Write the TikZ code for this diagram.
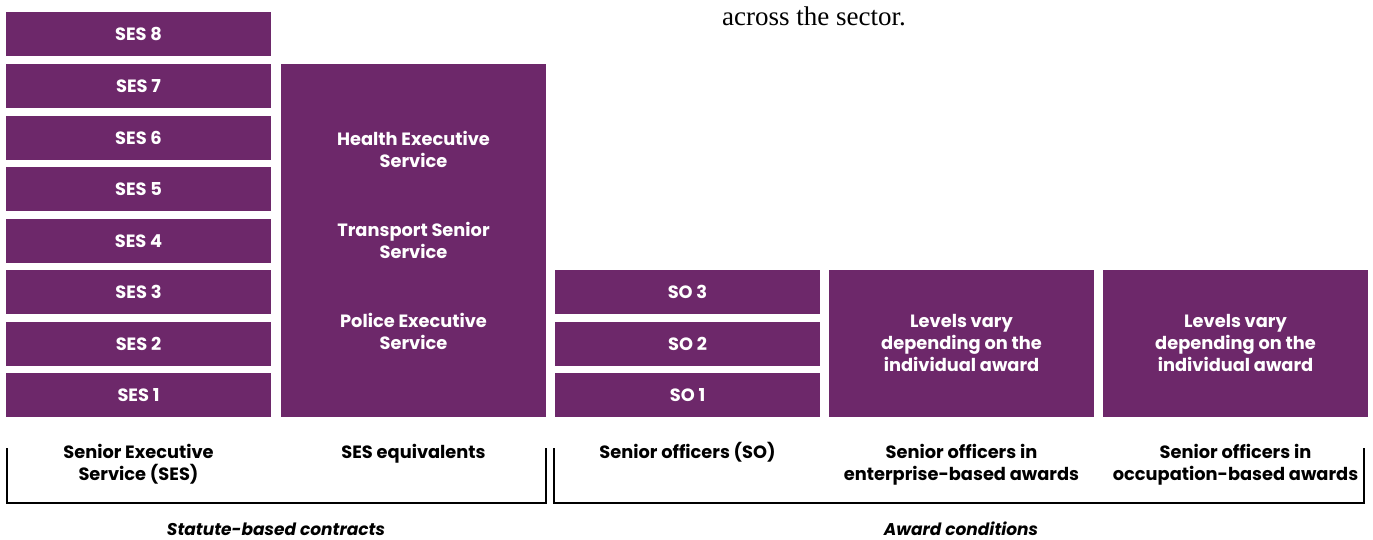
\documentclass[tikz,border=0pt]{standalone}
\usepackage{fontspec}
\setmainfont{Poppins}
\newfontfamily\serifbody{Liberation Serif}
\definecolor{vpurple}{RGB}{109,40,106}
\tikzset{
  lvl/.style={fill=vpurple, draw=none, inner sep=0pt, text=white, font=\bfseries\fontsize{17.8}{22}\selectfont, align=center},
  lvltext/.style={text=white, font=\bfseries\fontsize{17.8}{22}\selectfont, inner sep=0pt},
  cat/.style={inner sep=0pt, anchor=north, align=center, font=\bfseries\fontsize{17.8}{22}\selectfont, text=black},
  grp/.style={inner sep=0pt, font=\bfseries\itshape\fontsize{17}{22}\selectfont, text=black},
  brk/.style={line width=1.5pt, black}
}
\begin{document}
\begin{tikzpicture}[x=1pt,y=-1pt]
\useasboundingbox[fill=white] (0,0) rectangle (1373,539);
% top text fragment
\node[anchor=base west, inner sep=0pt, font=\serifbody\fontsize{27}{30}\selectfont] (topt) at (722,25) {across the sector.};
% SES column
\foreach \i/\y in {8/12,7/64,6/116,5/167,4/219,3/270,2/322,1/373}{
  \path[lvl] (6,\y) rectangle (271,\y+44);
  \node[lvltext] (ses\i) at (138.5,\y+22) {SES \i};
}
% SES equivalents
\path[lvl] (281,64) rectangle (546,417);
\node[lvl, fill=none] (heal) at (413.5,149) {Health Executive\\Service};
\node[lvl, fill=none] (tran) at (413.5,240) {Transport Senior\\Service};
\node[lvl, fill=none] (poli) at (413.5,331.5) {Police Executive\\Service};
% SO
\foreach \i/\y in {3/270,2/322,1/373}{
  \path[lvl] (555,\y) rectangle (820,\y+44);
  \node[lvltext] (so\i) at (687.5,\y+22) {SO \i};
}
% awards
\path[lvl] (829,270) rectangle (1094,417);
\node[lvl, fill=none] (ent) at (961.5,343) {Levels vary\\depending on the\\individual award};
\path[lvl] (1103,270) rectangle (1368,417);
\node[lvl, fill=none] (occ) at (1235.5,343) {Levels vary\\depending on the\\individual award};
% category labels
\node[cat] (c1) at (138.5,444) {Senior Executive\\Service (SES)};
\node[cat] (c2) at (413.5,444) {SES equivalents};
\node[cat] (c3) at (687.5,442) {Senior officers (SO)};
\node[cat] (c4) at (961.5,444) {Senior officers in\\enterprise-based awards};
\node[cat] (c5) at (1235.5,444) {Senior officers in\\occupation-based awards};
% brackets
\coordinate (b1a) at (7,448); \coordinate (b1b) at (7,503);
\coordinate (b1c) at (546,503); \coordinate (b1d) at (546,448);
\coordinate (b2a) at (554,448); \coordinate (b2b) at (554,503);
\coordinate (b2c) at (1364,503); \coordinate (b2d) at (1364,448);
\draw[brk] (b1a) -- (b1b) -- (b1c) -- (b1d);
\draw[brk] (b2a) -- (b2b) -- (b2c) -- (b2d);
% group labels
\node[grp] (g1) at (276,529) {Statute-based contracts};
\node[grp] (g2) at (961,529) {Award conditions};
\end{tikzpicture}
\end{document}
